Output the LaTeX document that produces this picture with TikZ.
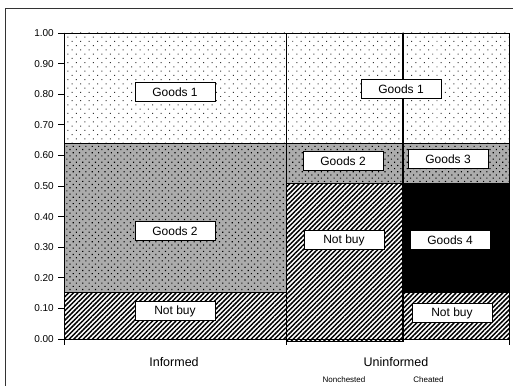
\documentclass[tikz,border=0pt]{standalone}
\usepackage{fontspec}
\setmainfont{Liberation Sans}
\usetikzlibrary{patterns.meta}
\begin{document}
\begin{tikzpicture}[x=1pt,y=-1pt,
  lbl/.style={draw=black, fill=white, line width=0.8pt, minimum width=80pt,
    minimum height=19pt, inner sep=0pt, font=\fontsize{12}{12}\selectfont},
  ticklbl/.style={anchor=east, inner sep=0pt, font=\fontsize{10}{10}\selectfont},
  catlbl/.style={inner sep=0pt, font=\fontsize{12.5}{13}\selectfont},
  sublbl/.style={inner sep=0pt, font=\fontsize{8}{9}\selectfont},
  sparse/.style={pattern={Dots[angle=45,distance=6pt,radius=0.7pt]}, pattern color=black!80},
  densebg/.style={fill=gray!65},
  densedots/.style={pattern={Dots[angle=45,distance=4.5pt,radius=0.8pt]}, pattern color=black},
  hatch/.style={pattern={Lines[angle=45,distance=3.3pt,line width=1.5pt]}, pattern color=black},
  edge/.style={draw=black, line width=0.8pt},
]
\useasboundingbox (0,0) rectangle (513,385);
\fill[white] (0,0) rectangle (513,385);

% outer frame (runs off the right and bottom)
\draw[black!80, line width=1pt] (5,395) -- (5,9) -- (525,9);

% Goods 1 layer across all groups
\fill[sparse] (64,33) rectangle (509,143);
% Goods 2 / Goods 3 layers
\fill[densebg] (64,143) rectangle (286,292);
\fill[densedots] (64,143) rectangle (286,292);
\fill[densebg] (286,143) rectangle (509,183);
\fill[densedots] (286,143) rectangle (509,183);
% Not buy layers
\fill[hatch] (64,292) rectangle (286,339);
\fill[hatch] (286,183) rectangle (403,341);
\fill[hatch] (403,292) rectangle (509,339);
% Goods 4
\fill[black] (403,183) rectangle (509,292);

% segment outlines
\draw[edge] (64,33) rectangle (286,339);
\draw[edge] (64,143) -- (286,143);
\draw[edge] (64,292) -- (286,292);
\draw[edge] (286,33) rectangle (403,341);
\draw[edge] (286,143) -- (403,143);
\draw[edge] (286,183) -- (403,183);
\draw[edge] (403,33) rectangle (509,339);
\draw[edge] (403,143) -- (509,143);
\draw[edge] (403,183) -- (509,183);
\draw[edge] (403,292) -- (509,292);
\draw[black, line width=1.5pt] (403,33) -- (403,341);

% axes and ticks
\draw[edge] (64,33) -- (64,345);
\draw[edge] (64,339) -- (509,339);
\foreach \xt in {286,509} \draw[edge] (\xt,339) -- (\xt,345);
\foreach \v/\t in {0/0.00,1/0.10,2/0.20,3/0.30,4/0.40,5/0.50,6/0.60,7/0.70,8/0.80,9/0.90,10/1.00}{
  \draw[edge] (58,339-30.6*\v) -- (64,339-30.6*\v);
  \node[ticklbl] (tick\v) at (54,339-30.6*\v) {\t};
}

% segment labels
\node[lbl] (g1i) at (175,92) {Goods 1};
\node[lbl] (g2i) at (175,231) {Goods 2};
\node[lbl] (nbi) at (175,311) {Not buy};
\node[lbl] (g1u) at (401,89) {Goods 1};
\node[lbl] (g2u) at (343,161) {Goods 2};
\node[lbl] (g3c) at (448,159) {Goods 3};
\node[lbl] (nbu) at (344,240) {Not buy};
\node[lbl] (g4c) at (450,240) {Goods 4};
\node[lbl] (nbc) at (452,313) {Not buy};

% category labels
\node[catlbl] (inf) at (174,362.5) {Informed};
\node[catlbl] (uninf) at (396,362.5) {Uninformed};
\node[sublbl] (nonch) at (344,379.5) {Nonchested};
\node[sublbl] (cheat) at (428.5,379.5) {Cheated};
\end{tikzpicture}
\end{document}
